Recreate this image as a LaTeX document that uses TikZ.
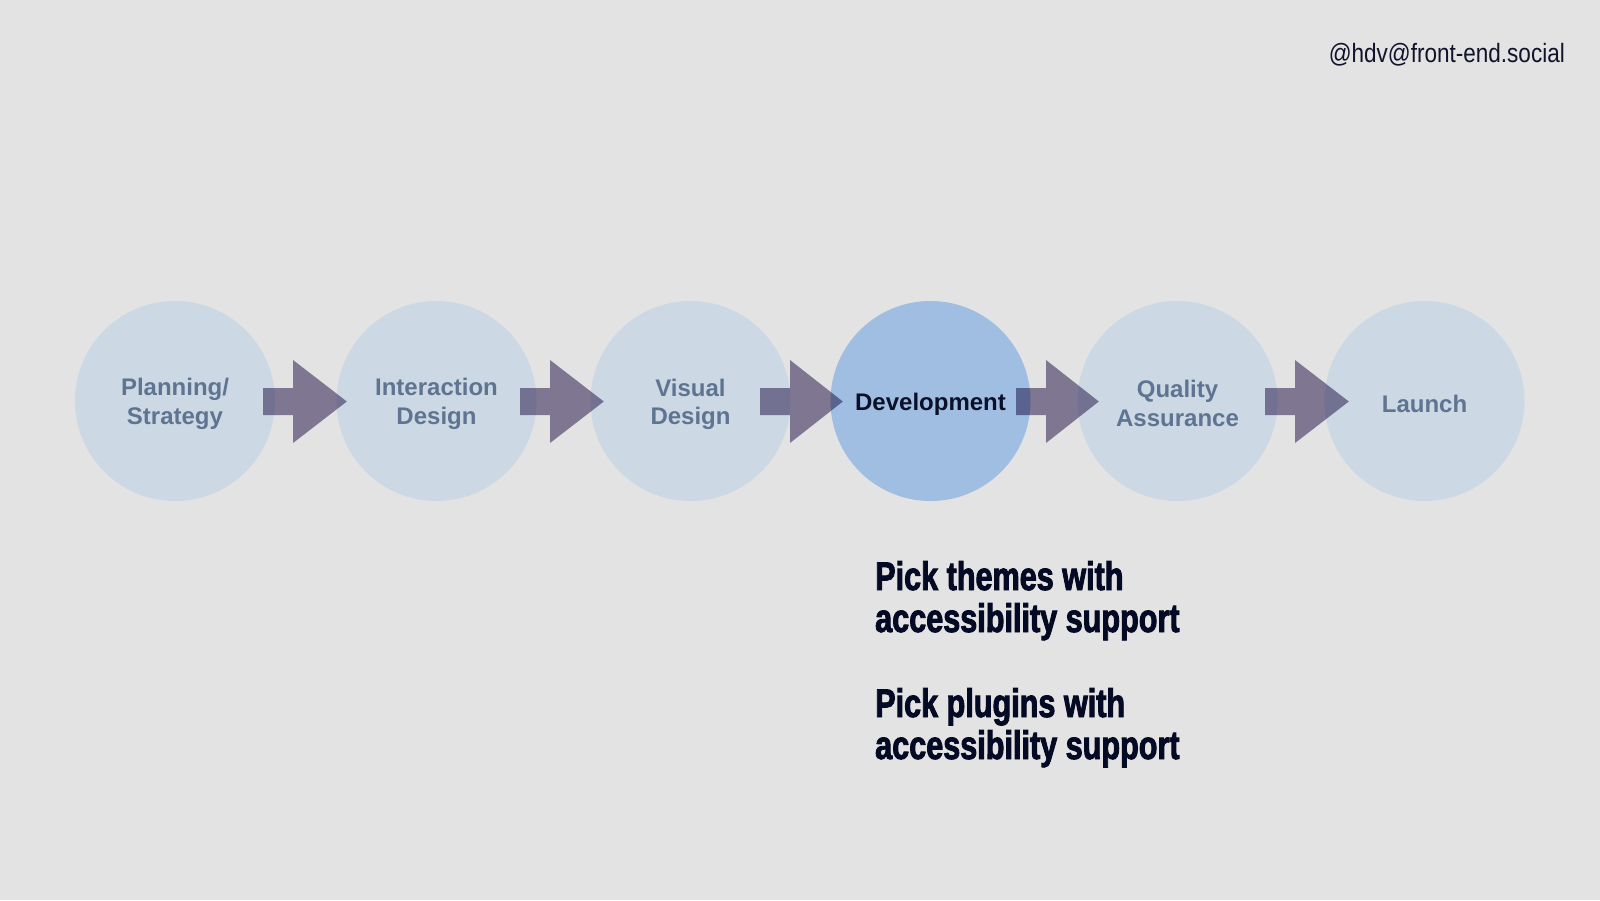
\documentclass[tikz,border=0pt]{standalone}
\usepackage{fontspec}
\setmainfont{Liberation Sans}
\newfontfamily\labelfont{Liberation Sans}
\newfontfamily\condfont{Liberation Sans Bold}[FakeStretch=0.765,FakeBold=2.2]
\newfontfamily\handlefont{Liberation Sans}[FakeStretch=0.85]
\usetikzlibrary{calc}
\definecolor{bgcol}{RGB}{227,227,227}
\definecolor{stagefill}{RGB}{204,217,229}
\definecolor{activefill}{RGB}{160,190,226}
\definecolor{labelcol}{RGB}{94,116,145}
\definecolor{activetext}{RGB}{10,16,40}
\definecolor{arrowcol}{RGB}{143,133,163}
\definecolor{notecol}{RGB}{5,10,36}
\definecolor{handlecol}{RGB}{16,19,42}
\newcommand\blockarrow[4]{%
  \fill[arrowfill] let \p1=($(#1.center)+(#2,0.5)$), \p2=($(#3.west)+(#4,0.5)$) in
   (\x1,\y1+13.5pt) -- (\x1+30pt,\y1+13.5pt) -- (\x1+30pt,\y1+41.5pt) -- (\x2,\y2)
   -- (\x1+30pt,\y1-41.5pt) -- (\x1+30pt,\y1-13.5pt) -- (\x1,\y1-13.5pt) -- cycle;}
\begin{document}
\begin{tikzpicture}[x=1pt,y=-1pt,
  stage/.style={circle, fill=stagefill, minimum size=200pt, inner sep=0pt},
  active/.style={stage, fill=activefill},
  stagelabel/.style={align=center, text=labelcol, inner sep=0pt, yshift=-2pt,
    font=\labelfont\bfseries\fontsize{24}{28.5}\selectfont},
  activelabel/.style={stagelabel, text=activetext},
  arrowfill/.style={fill=arrowcol},
  note/.style={anchor=base west, align=left, inner sep=0pt, text=notecol,
    font=\condfont\fontsize{40}{42}\selectfont}]
\fill[bgcol] (0,0) rectangle (1600,900);
\useasboundingbox (0,0) rectangle (1600,900);

\node[stage]  (c1) at (175,401) {};
\node[stage]  (c2) at (436.5,401) {};
\node[stage]  (c3) at (690.5,401) {};
\node[active] (c4) at (930.5,401) {};
\node[stage]  (c5) at (1177.5,401) {};
\node[stage]  (c6) at (1424.5,401) {};

\begin{scope}[blend mode=multiply]
  \blockarrow{c1}{88}{c2}{10.5}
  \blockarrow{c2}{83.5}{c3}{13.5}
  \blockarrow{c3}{69.5}{c4}{12.5}
  \blockarrow{c4}{85.5}{c5}{21.5}
  \blockarrow{c5}{87.5}{c6}{24.5}
\end{scope}

\node[stagelabel]  (l1) at ($(c1)+(0,1)$) {Planning/\\Strategy};
\node[stagelabel]  (l2) at ($(c2)+(0,1)$) {Interaction\\Design};
\node[stagelabel]  (l3) at ($(c3)+(0,1.5)$) {Visual\\Design};
\node[activelabel] (l4) at ($(c4)+(0,1.5)$) {Development};
\node[stagelabel]  (l5) at ($(c5)+(0,0.5)$) {Quality\\Assurance};
\node[stagelabel]  (l6) at ($(c6)+(0,1)$) {Launch};

\node[note] (n1) at (875,632) {Pick themes with\\accessibility support};
\node[note] (n2) at (875,759) {Pick plugins with\\accessibility support};

\node[anchor=base east, inner sep=0pt, text=handlecol,
  font=\handlefont\fontsize{26.5}{30}\selectfont] (handle) at (1565,62) {@hdv@front-end.social};
\end{tikzpicture}
\end{document}
